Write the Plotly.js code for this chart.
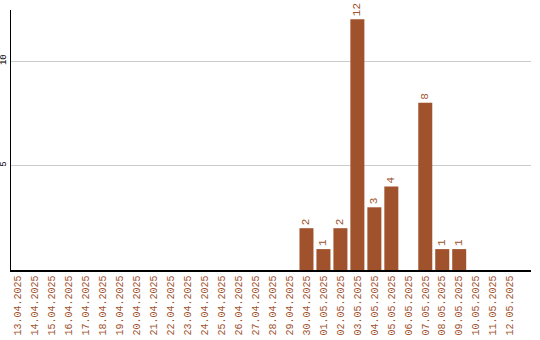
<!DOCTYPE html>
<html><head><meta charset="utf-8">
<script src="https://cdn.plot.ly/plotly-3.0.1.min.js"></script>
<style>html,body{margin:0;padding:0;background:#fff}</style>
</head><body><div id="chart" style="width:540px;height:340px"></div>
<script>
var dates = ["13.04.2025","14.04.2025","15.04.2025","16.04.2025","17.04.2025","18.04.2025","19.04.2025","20.04.2025","21.04.2025","22.04.2025","23.04.2025","24.04.2025","25.04.2025","26.04.2025","27.04.2025","28.04.2025","29.04.2025","30.04.2025","01.05.2025","02.05.2025","03.05.2025","04.05.2025","05.05.2025","06.05.2025","07.05.2025","08.05.2025","09.05.2025","10.05.2025","11.05.2025","12.05.2025"];
var counts = [0,0,0,0,0,0,0,0,0,0,0,0,0,0,0,0,0,2,1,2,12,3,4,0,8,1,1,0,0,0];
var yTicks = [5,10];
var labels = counts.map(function(v){return v>0 ? String(v) : '';});
var mono = "Liberation Mono, Courier New, monospace";
var trace = {
  type:'bar', x:dates, y:counts, text:labels,
  textposition:'outside', textangle:-90, cliponaxis:false,
  textfont:{family:mono, size:11, color:'#a0522d'},
  marker:{color:'#a0522d'}, hoverinfo:'none'
};
var layout = {
  width:540, height:340,
  margin:{l:11, r:9, t:10, b:70, pad:0},
  paper_bgcolor:'#fff', plot_bgcolor:'#fff',
  showlegend:false, bargap:0.175,
  font:{family:mono},
  xaxis:{type:'category', range:[-0.41,30.23], tickangle:-90, automargin:false,
    tickfont:{family:mono, size:10, color:'#a0522d'}, showgrid:false,
    showline:true, linecolor:'#000', linewidth:1.5, ticks:'', ticklen:0},
  yaxis:{range:[0,12.44], tickvals:yTicks, ticktext:yTicks.map(String), tickangle:-90, automargin:false,
    tickfont:{family:mono, size:9, color:'#000'}, showgrid:true, gridcolor:'#cccccc', gridwidth:1,
    zeroline:false, showline:true, linecolor:'#000', linewidth:1.5, ticks:'', ticklen:0}
};
Plotly.newPlot('chart',[trace],layout,{displayModeBar:false, staticPlot:true});
</script></body></html>
